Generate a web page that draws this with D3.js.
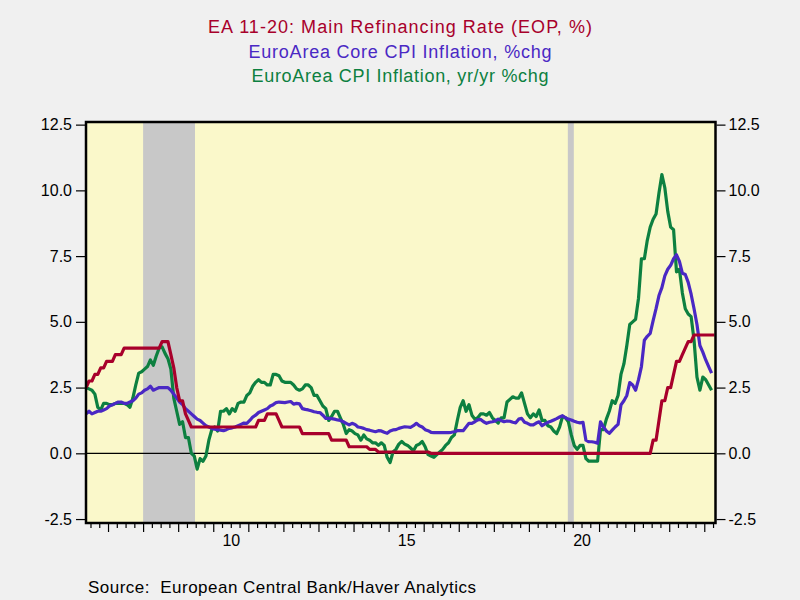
<!DOCTYPE html>
<html>
<head>
<meta charset="utf-8">
<script src="https://cdn.jsdelivr.net/npm/d3@7"></script>
<style>
  html, body { margin: 0; padding: 0; background: #F0F0F0; }
  svg { display: block; }
  text { font-family: "Liberation Sans", Arial, sans-serif; }
</style>
</head>
<body>
<svg id="chart" width="800" height="600"></svg>
<script>
// ---------- DATA (monthly, first observation May 2006) ----------
const startYear = 2006, startMonth = 5;

const titleLines = [
  "EA 11-20: Main Refinancing Rate (EOP, %)",
  "EuroArea Core CPI Inflation, %chg",
  "EuroArea CPI Inflation, yr/yr %chg"
];
const sourceText = "Source:  European Central Bank/Haver Analytics";

const yTicks = [-2.5, 0, 2.5, 5, 7.5, 10, 12.5];
const xLabelYears = [2010, 2015, 2020];
const xLabelText = ["10", "15", "20"];
const recessions = [[2008.0, 2009.48], [2020.11, 2020.28]];

// Main refinancing rate, EOP (May 2006 - Apr 2024)
const refiRate = [
  2.5, 2.75, 2.75, 3.0, 3.0, 3.25, 3.25, 3.5,
  3.5, 3.5, 3.75, 3.75, 3.75, 4.0, 4.0, 4.0, 4.0, 4.0, 4.0, 4.0,
  4.0, 4.0, 4.0, 4.0, 4.0, 4.0, 4.25, 4.25, 4.25, 3.75, 3.25, 2.5,
  2.0, 2.0, 1.5, 1.25, 1.0, 1.0, 1.0, 1.0, 1.0, 1.0, 1.0, 1.0,
  1.0, 1.0, 1.0, 1.0, 1.0, 1.0, 1.0, 1.0, 1.0, 1.0, 1.0, 1.0,
  1.0, 1.0, 1.0, 1.25, 1.25, 1.25, 1.5, 1.5, 1.5, 1.5, 1.25, 1.0,
  1.0, 1.0, 1.0, 1.0, 1.0, 1.0, 0.75, 0.75, 0.75, 0.75, 0.75, 0.75,
  0.75, 0.75, 0.75, 0.75, 0.5, 0.5, 0.5, 0.5, 0.5, 0.5, 0.25, 0.25,
  0.25, 0.25, 0.25, 0.25, 0.25, 0.15, 0.15, 0.15, 0.05, 0.05, 0.05, 0.05,
  0.05, 0.05, 0.05, 0.05, 0.05, 0.05, 0.05, 0.05, 0.05, 0.05, 0.05, 0.05,
  0.05, 0.05, 0, 0, 0, 0, 0, 0, 0, 0, 0, 0,
  0, 0, 0, 0, 0, 0, 0, 0, 0, 0, 0, 0,
  0, 0, 0, 0, 0, 0, 0, 0, 0, 0, 0, 0,
  0, 0, 0, 0, 0, 0, 0, 0, 0, 0, 0, 0,
  0, 0, 0, 0, 0, 0, 0, 0, 0, 0, 0, 0,
  0, 0, 0, 0, 0, 0, 0, 0, 0, 0, 0, 0,
  0, 0, 0, 0, 0, 0, 0.5, 0.5, 1.25, 2.0, 2.0, 2.5,
  2.5, 3.0, 3.5, 3.5, 3.75, 4.0, 4.25, 4.25, 4.5, 4.5, 4.5, 4.5,
  4.5, 4.5, 4.5, 4.5
];

// Core CPI inflation (May 2006 - Mar 2024)
const coreCPI = [
  1.5, 1.6, 1.5, 1.55, 1.6, 1.6, 1.65, 1.7,
  1.8, 1.85, 1.9, 1.95, 1.95, 1.9, 1.9, 1.95, 2.0, 2.1, 2.25, 2.3,
  2.4, 2.45, 2.55, 2.4, 2.45, 2.5, 2.5, 2.5, 2.5, 2.4, 2.25, 2.1,
  1.95, 1.85, 1.7, 1.6, 1.5, 1.4, 1.3, 1.25, 1.15, 1.05, 1.0, 0.95,
  0.92, 0.9, 0.88, 0.86, 0.9, 0.95, 0.97, 1.0, 1.05, 1.1, 1.15, 1.14,
  1.25, 1.38, 1.45, 1.55, 1.6, 1.65, 1.7, 1.8, 1.85, 1.93, 1.95, 1.94,
  1.93, 1.95, 1.97, 1.87, 1.9, 1.88, 1.7, 1.67, 1.65, 1.62, 1.58, 1.56,
  1.55, 1.45, 1.33, 1.33, 1.32, 1.3, 1.27, 1.25, 1.2, 1.14, 1.08, 1.14,
  1.1, 1.0, 0.98, 0.95, 0.9, 0.88, 0.85, 0.82, 0.86, 0.85, 0.8, 0.76,
  0.85, 0.89, 0.9, 0.95, 0.98, 1.01, 1.0, 0.99, 1.05, 1.14, 1.05, 1.0,
  0.9, 0.86, 0.8, 0.79, 0.79, 0.79, 0.79, 0.79, 0.79, 0.8, 0.82, 0.86,
  0.86, 0.86, 1.0, 1.14, 1.14, 1.2, 1.27, 1.29, 1.2, 1.14, 1.18, 1.2,
  1.23, 1.3, 1.25, 1.2, 1.23, 1.22, 1.18, 1.16, 1.3, 1.33, 1.18, 1.14,
  1.08, 1.08, 1.15, 1.2, 1.05, 1.12, 1.18, 1.22, 1.27, 1.32, 1.38, 1.43,
  1.35, 1.3, 1.27, 1.22, 1.18, 1.16, 1.18, 0.5, 0.44, 0.44, 0.42, 0.38,
  1.2, 1.0, 0.85, 0.76, 0.88, 1.0, 1.1, 1.84, 2.0, 2.2, 2.69, 2.6,
  2.4, 2.8, 3.3, 4.3, 4.45, 4.56, 5.05, 5.5, 6.0, 6.3, 6.75, 7.0,
  7.15, 7.4, 7.55, 7.3, 6.85, 6.8, 6.5, 6.05, 5.5, 4.9, 4.1, 3.85,
  3.55, 3.3, 3.05
];

// Headline CPI inflation, yr/yr (May 2006 - Mar 2024)
const headlineCPI = [
  2.5, 2.45, 2.4, 2.25, 1.75, 1.65, 1.9, 1.9,
  1.85, 1.85, 1.9, 1.9, 1.9, 1.9, 1.85, 1.75, 2.1, 2.6, 3.05, 3.1,
  3.2, 3.3, 3.55, 3.35, 3.7, 4.0, 4.05, 3.8, 3.6, 3.2, 2.1, 1.6,
  1.1, 1.2, 0.6, 0.6, 0.0, -0.1, -0.6, -0.2, -0.3, -0.1, 0.5, 0.9,
  1.0, 0.85, 1.6, 1.6, 1.7, 1.5, 1.7, 1.6, 1.9, 1.95, 1.95, 2.2,
  2.3, 2.55, 2.7, 2.8, 2.7, 2.7, 2.6, 2.6, 3.0, 3.0, 2.95, 2.75,
  2.7, 2.7, 2.7, 2.6, 2.45, 2.4, 2.45, 2.6, 2.6, 2.5, 2.2, 2.2,
  2.0, 1.8, 1.7, 1.25, 1.4, 1.6, 1.6, 1.35, 1.1, 0.75, 0.9, 0.85,
  0.75, 0.7, 0.5, 0.7, 0.55, 0.5, 0.4, 0.4, 0.3, 0.4, 0.3, -0.15,
  -0.35, 0.05, 0.15, 0.35, 0.45, 0.35, 0.3, 0.2, 0.1, 0.3, 0.35, 0.45,
  0.25, -0.05, -0.1, -0.15, -0.05, 0.05, 0.15, 0.3, 0.4, 0.6, 0.7, 1.25,
  1.75, 2.0, 1.6, 1.85, 1.45, 1.3, 1.35, 1.5, 1.5, 1.45, 1.55, 1.35,
  1.25, 1.15, 1.35, 1.35, 1.95, 2.05, 2.15, 2.1, 2.1, 2.3, 1.9, 1.5,
  1.35, 1.5, 1.4, 1.65, 1.25, 1.25, 1.05, 1.0, 0.85, 0.75, 1.0, 1.4,
  1.35, 1.2, 0.7, 0.3, 0.15, 0.3, 0.3, -0.2, -0.3, -0.3, -0.3, -0.3,
  0.9, 0.9, 1.3, 1.6, 2.0, 1.9, 2.2, 3.0, 3.4, 4.1, 4.9, 5.0,
  5.1, 5.9, 7.4, 7.4, 8.1, 8.6, 8.9, 9.1, 9.9, 10.6, 10.1, 9.2,
  8.6, 8.5, 6.9, 7.0, 6.1, 5.5, 5.3, 5.2, 4.3, 2.9, 2.4, 2.9,
  2.8, 2.6, 2.4
];

const seriesColors = { refi: "#A8002B", core: "#4A28C4", cpi: "#0D8040" };

// ---------- CHART ----------
const svg = d3.select("#chart");
const plot = { left: 86, right: 715.5, top: 122, bottom: 523 };

const x = d3.scaleLinear().domain([2006.372, 2024.32]).range([plot.left, plot.right]);
const y = d3.scaleLinear().domain([-2.65, 12.6]).range([plot.bottom, plot.top]);

const monthT = i => startYear + (startMonth - 1 + i + 0.5) / 12;

svg.append("rect").attr("width", 800).attr("height", 600).attr("fill", "#F0F0F0");

// titles
const titleColors = [seriesColors.refi, seriesColors.core, seriesColors.cpi];
const titleY = [33, 57.5, 82];
const titleWidths = [384, 303, 297];
titleLines.forEach((t, i) => {
  svg.append("text")
    .attr("x", 400).attr("y", titleY[i])
    .attr("text-anchor", "middle")
    .attr("font-size", 18)
    .attr("fill", titleColors[i])
    .attr("textLength", titleWidths[i])
    .attr("lengthAdjust", "spacing")
    .text(t);
});

// plot background
svg.append("rect")
  .attr("x", plot.left).attr("y", plot.top)
  .attr("width", plot.right - plot.left).attr("height", plot.bottom - plot.top)
  .attr("fill", "#FAF8CA");

svg.append("clipPath").attr("id", "clip")
  .append("rect")
  .attr("x", plot.left).attr("y", plot.top)
  .attr("width", plot.right - plot.left).attr("height", plot.bottom - plot.top);

const g = svg.append("g").attr("clip-path", "url(#clip)");

// recession shading
g.selectAll("rect.rec").data(recessions).join("rect")
  .attr("class", "rec")
  .attr("x", d => x(d[0])).attr("width", d => x(d[1]) - x(d[0]))
  .attr("y", plot.top).attr("height", plot.bottom - plot.top)
  .attr("fill", "#C8C8C8");

// zero line
g.append("line")
  .attr("x1", plot.left).attr("x2", plot.right)
  .attr("y1", y(0)).attr("y2", y(0))
  .attr("stroke", "#000").attr("stroke-width", 1.2);

const line = d3.line().x((d, i) => x(monthT(i))).y(d => y(d));

[[headlineCPI, seriesColors.cpi], [coreCPI, seriesColors.core], [refiRate, seriesColors.refi]]
  .forEach(([vals, col]) => {
    g.append("path").datum(vals)
      .attr("d", line)
      .attr("fill", "none")
      .attr("stroke", col)
      .attr("stroke-width", 3.2)
      .attr("stroke-linejoin", "round");
  });

// frame
svg.append("rect")
  .attr("x", plot.left).attr("y", plot.top)
  .attr("width", plot.right - plot.left).attr("height", plot.bottom - plot.top)
  .attr("fill", "none").attr("stroke", "#000").attr("stroke-width", 2.5);

// y axes
const fmt = d => d3.format(".1f")(d).replace("\u2212", "-");
const yl = svg.append("g").attr("transform", `translate(${plot.left - 1},0)`)
  .call(d3.axisLeft(y).tickValues(yTicks).tickFormat(fmt).tickSize(9).tickPadding(4));
const yr = svg.append("g").attr("transform", `translate(${plot.right + 1},0)`)
  .call(d3.axisRight(y).tickValues(yTicks).tickFormat(fmt).tickSize(9).tickPadding(3));

// x axis: major ticks at year starts, minor at quarters
const years = d3.range(2007, 2025);
const quarters = [];
years.concat([2006]).forEach(yy => [0.25, 0.5, 0.75].forEach(q => quarters.push(yy + q)));
const xMinor = svg.append("g").attr("transform", `translate(0,${plot.bottom + 1})`)
  .call(d3.axisBottom(x).tickValues(quarters.filter(q => q > x.domain()[0] && q < x.domain()[1])).tickFormat("").tickSize(4));
const xMajor = svg.append("g").attr("transform", `translate(0,${plot.bottom + 1})`)
  .call(d3.axisBottom(x).tickValues(years.filter(v => v < x.domain()[1])).tickFormat("").tickSize(8));
const xLab = svg.append("g").attr("transform", `translate(0,${plot.bottom + 1})`)
  .call(d3.axisBottom(x).tickValues(xLabelYears.map(v => v + 0.5))
    .tickFormat((d, i) => xLabelText[i]).tickSize(0).tickPadding(11));

[yl, yr, xMinor, xMajor, xLab].forEach(a => {
  a.select(".domain").remove();
  a.selectAll("line").attr("stroke", "#000").attr("stroke-width", 1.2);
  a.selectAll("text").attr("font-size", 16).attr("fill", "#000")
    .attr("font-family", "'Liberation Sans', Arial, sans-serif");
});

// source
svg.append("text")
  .attr("x", 88).attr("y", 593)
  .attr("font-size", 17)
  .attr("fill", "#000")
  .style("white-space", "pre")
  .attr("textLength", 388)
  .attr("lengthAdjust", "spacing")
  .text(sourceText);
</script>
</body>
</html>
